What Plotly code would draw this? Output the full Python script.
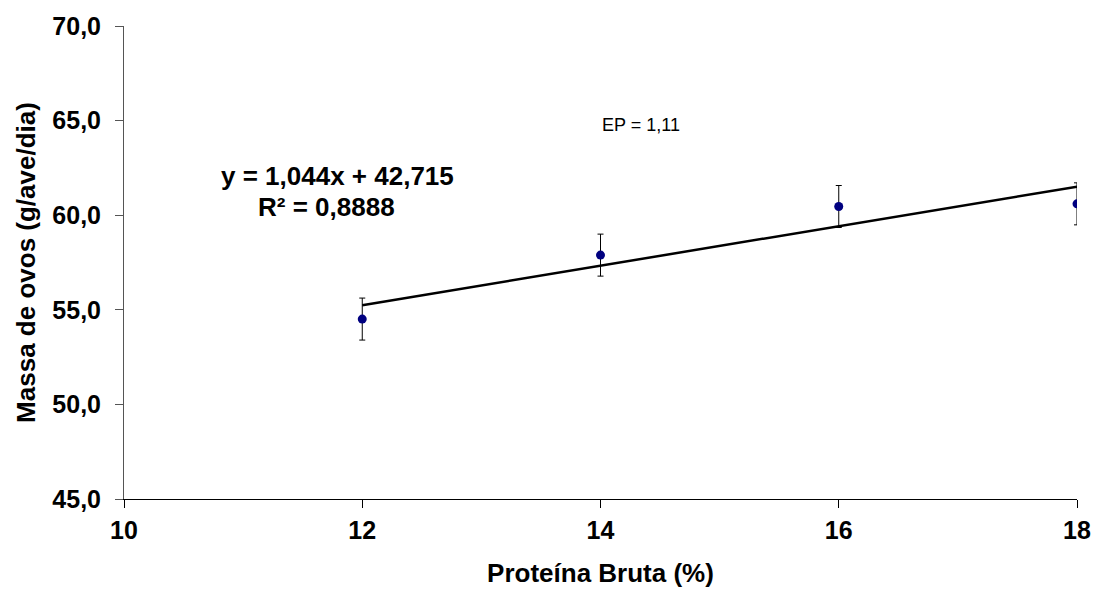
import plotly.graph_objects as go

protein = [12, 14, 16, 18]
egg_mass = [54.51, 57.89, 60.46, 60.60]
ep = 1.11
slope = 1.044
intercept = 42.715
x_ticks = [10, 12, 14, 16, 18]
y_ticks = [45, 50, 55, 60, 65, 70]

FONT = "Liberation Sans, Arial, sans-serif"

fit_x = [protein[0], protein[-1]]
fit_y = [slope * v + intercept for v in fit_x]

fig = go.Figure()
fig.add_trace(go.Scatter(
    x=fit_x, y=fit_y, mode="lines",
    line=dict(color="black", width=2.5), showlegend=False, hoverinfo="skip"))
fig.add_trace(go.Scatter(
    x=protein, y=egg_mass, mode="markers",
    marker=dict(color="#000080", size=9),
    error_y=dict(type="constant", value=ep, color="black", thickness=1, width=3),
    showlegend=False))

fig.add_annotation(x=11.79, y=62.05, text="<b>y = 1,044x + 42,715</b>", showarrow=False,
                   font=dict(family=FONT, size=26, color="black"))
fig.add_annotation(x=11.70, y=60.45, text="<b>R² = 0,8888</b>", showarrow=False,
                   font=dict(family=FONT, size=26, color="black"))
fig.add_annotation(x=14.34, y=64.77, text="EP = 1,11", showarrow=False,
                   font=dict(family=FONT, size=18, color="black"))

fig.update_layout(
    width=1103, height=601,
    margin=dict(l=124, r=21, t=20, b=102),
    paper_bgcolor="white", plot_bgcolor="white",
    separators=",.",
    font=dict(family=FONT, color="black"),
    xaxis=dict(range=[10, 18], tickvals=x_ticks, ticks="outside", ticklen=8,
               tickcolor="black", showline=True, linecolor="black", linewidth=1,
               showgrid=False, zeroline=False, ticklabelstandoff=1,
               tickfont=dict(family=FONT, size=25, color="black", weight="bold"),
               title=dict(text="<b>Proteína Bruta (%)</b>", font=dict(family=FONT, size=26), standoff=20)),
    yaxis=dict(range=[45, 70], tickvals=y_ticks, tickformat=".1f", ticks="outside", ticklen=8,
               tickcolor="#555555", showline=True, linecolor="#555555", linewidth=1,
               showgrid=False, zeroline=False, ticklabelstandoff=9,
               tickfont=dict(family=FONT, size=25, color="black", weight="bold"),
               title=dict(text="<b>Massa de ovos (g/ave/dia)</b>", font=dict(family=FONT, size=26), standoff=9)),
)

fig.write_html("out.html", config={"displayModeBar": False},
               post_script="document.body.style.margin='0';document.body.style.overflow='hidden';")
